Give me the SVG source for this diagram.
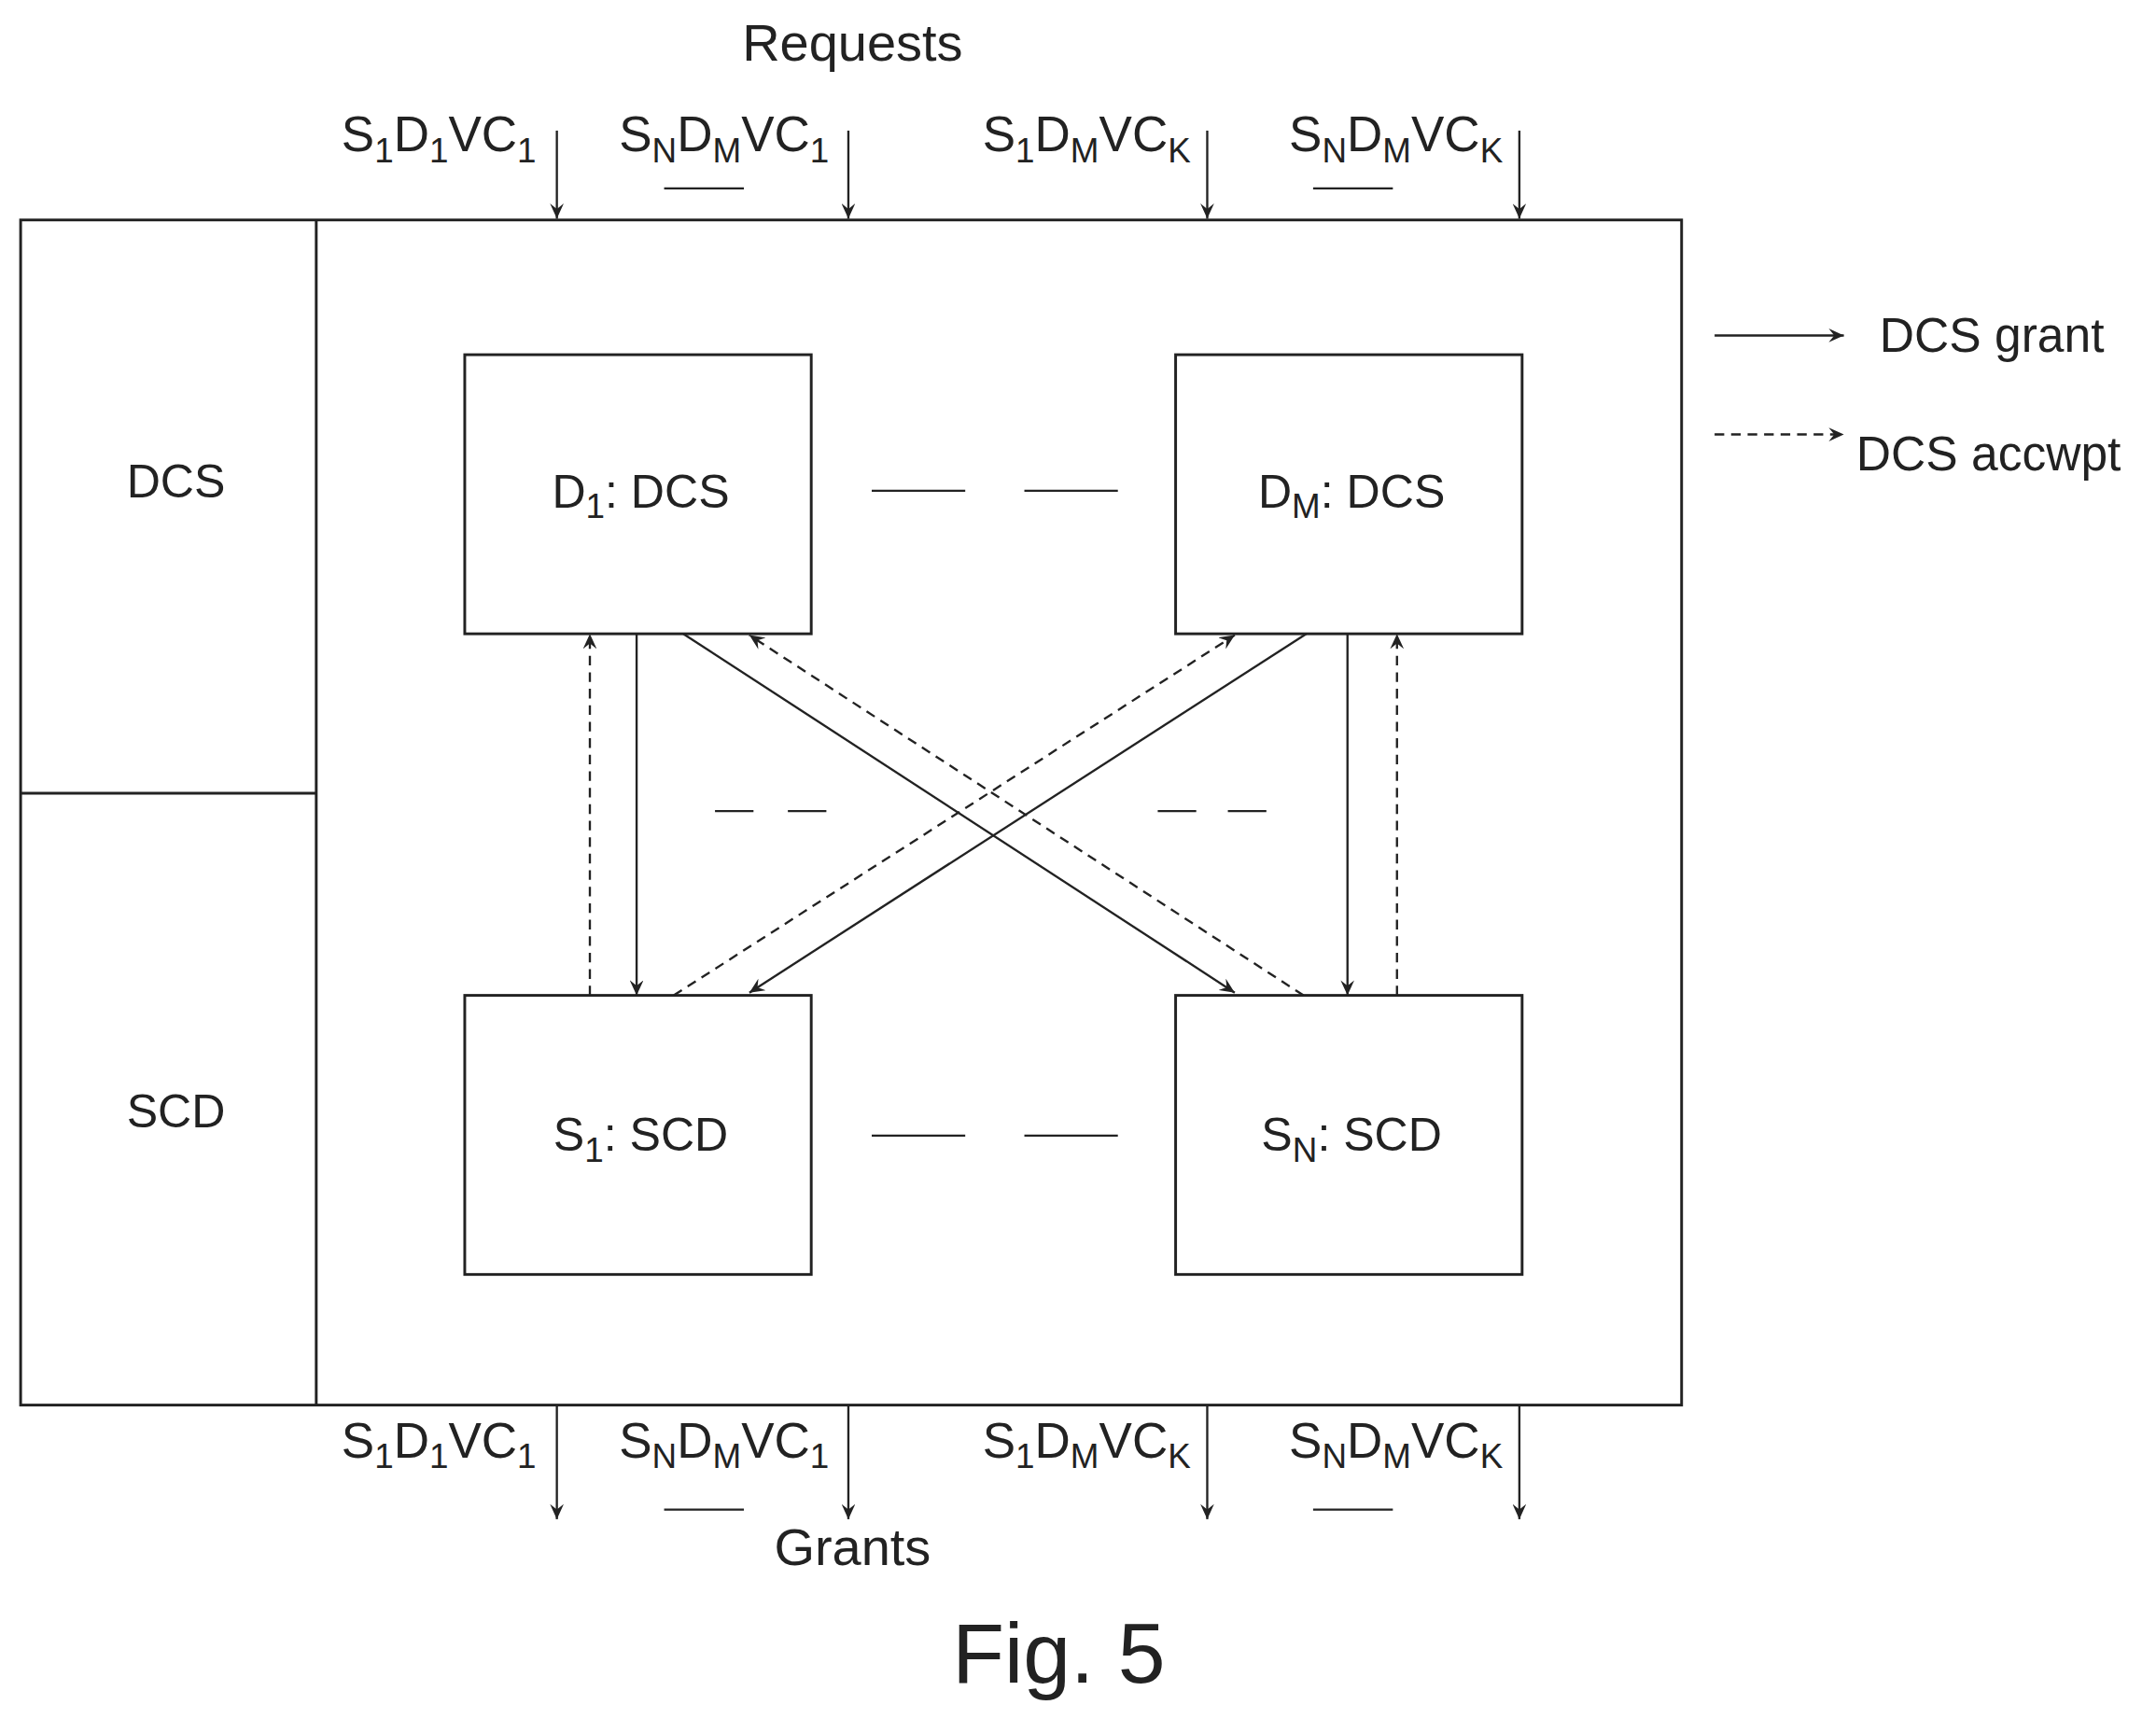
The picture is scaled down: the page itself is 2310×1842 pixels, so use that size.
<svg xmlns="http://www.w3.org/2000/svg" width="2310" height="1842" viewBox="0 0 2310 1842">
<style>
.b{fill:none;stroke:#222;stroke-width:2}
.s{stroke:#222;stroke-width:1.6;fill:none}
.d{stroke:#222;stroke-width:1.6;fill:none;stroke-dasharray:7,5}
text{font-family:"Liberation Sans",Arial,sans-serif;fill:#222;font-size:36px}
.m{text-anchor:middle}
.e{text-anchor:end}
.sub{font-size:25px}
.n{font-size:34px}
</style>
<defs>
<marker id="a" markerWidth="12" markerHeight="10" refX="11" refY="5" orient="auto" markerUnits="userSpaceOnUse"><path d="M0,0 L11,5 L0,10 L4,5 Z" fill="#222"/></marker>
</defs>
<rect width="2310" height="1842" fill="#fff"/>
<g transform="scale(1.4732)">
<g id="frame">
<rect class="b" x="15" y="160" width="1208" height="862"/>
<line class="b" x1="230" y1="160" x2="230" y2="1022"/>
<line class="b" x1="15" y1="577" x2="230" y2="577"/>
<text class="m n" x="128" y="362">DCS</text>
<text class="m n" x="128" y="820">SCD</text>
</g>
<g id="D1"><rect class="b" x="338" y="258" width="252" height="203"/><text class="m n" x="466" y="369">D<tspan class="sub" dy="8">1</tspan><tspan dy="-8">: DCS</tspan></text></g>
<g id="DM"><rect class="b" x="855" y="258" width="252" height="203"/><text class="m n" x="983" y="369">D<tspan class="sub" dy="8">M</tspan><tspan dy="-8">: DCS</tspan></text></g>
<g id="S1"><rect class="b" x="338" y="724" width="252" height="203"/><text class="m n" x="466" y="837">S<tspan class="sub" dy="8">1</tspan><tspan dy="-8">: SCD</tspan></text></g>
<g id="SN"><rect class="b" x="855" y="724" width="252" height="203"/><text class="m n" x="983" y="837">S<tspan class="sub" dy="8">N</tspan><tspan dy="-8">: SCD</tspan></text></g>
<g id="ellipses">
<path class="s" d="M634,357H702M745,357H813M634,826H702M745,826H813M520,590H548M573,590H601M842,590H870M893,590H921M483,137H541M955,137H1013M483,1098H541M955,1098H1013"/>
</g>
<g id="connectors">
<line class="d" x1="429" y1="724" x2="429" y2="461" marker-end="url(#a)"/>
<line class="s" x1="463" y1="461" x2="463" y2="724" marker-end="url(#a)"/>
<line class="s" x1="980" y1="461" x2="980" y2="724" marker-end="url(#a)"/>
<line class="d" x1="1016" y1="724" x2="1016" y2="461" marker-end="url(#a)"/>
<line class="s" x1="497" y1="461" x2="898" y2="722" marker-end="url(#a)"/>
<line class="d" x1="948" y1="724" x2="545" y2="462" marker-end="url(#a)"/>
<line class="s" x1="950" y1="461" x2="545" y2="722" marker-end="url(#a)"/>
<line class="d" x1="490" y1="724" x2="898" y2="462" marker-end="url(#a)"/>
<line class="s" x1="405" y1="95" x2="405" y2="159" marker-end="url(#a)"/>
<line class="s" x1="617" y1="95" x2="617" y2="159" marker-end="url(#a)"/>
<line class="s" x1="878" y1="95" x2="878" y2="159" marker-end="url(#a)"/>
<line class="s" x1="1105" y1="95" x2="1105" y2="159" marker-end="url(#a)"/>
<line class="s" x1="405" y1="1022" x2="405" y2="1105" marker-end="url(#a)"/>
<line class="s" x1="617" y1="1022" x2="617" y2="1105" marker-end="url(#a)"/>
<line class="s" x1="878" y1="1022" x2="878" y2="1105" marker-end="url(#a)"/>
<line class="s" x1="1105" y1="1022" x2="1105" y2="1105" marker-end="url(#a)"/>
<line class="s" x1="1247" y1="244" x2="1341" y2="244" marker-end="url(#a)"/>
<line class="d" x1="1247" y1="316" x2="1341" y2="316" marker-end="url(#a)"/>
</g>
<g id="labels">
<text class="m" x="620" y="44" style="font-size:38px">Requests</text>
<text class="e" x="390" y="110">S<tspan class="sub" dy="8">1</tspan><tspan dy="-8">D</tspan><tspan class="sub" dy="8">1</tspan><tspan dy="-8">VC</tspan><tspan class="sub" dy="8">1</tspan></text>
<text class="e" x="603" y="110">S<tspan class="sub" dy="8">N</tspan><tspan dy="-8">D</tspan><tspan class="sub" dy="8">M</tspan><tspan dy="-8">VC</tspan><tspan class="sub" dy="8">1</tspan></text>
<text class="e" x="866" y="110">S<tspan class="sub" dy="8">1</tspan><tspan dy="-8">D</tspan><tspan class="sub" dy="8">M</tspan><tspan dy="-8">VC</tspan><tspan class="sub" dy="8">K</tspan></text>
<text class="e" x="1093" y="110">S<tspan class="sub" dy="8">N</tspan><tspan dy="-8">D</tspan><tspan class="sub" dy="8">M</tspan><tspan dy="-8">VC</tspan><tspan class="sub" dy="8">K</tspan></text>
<text class="e" x="390" y="1060">S<tspan class="sub" dy="8">1</tspan><tspan dy="-8">D</tspan><tspan class="sub" dy="8">1</tspan><tspan dy="-8">VC</tspan><tspan class="sub" dy="8">1</tspan></text>
<text class="e" x="603" y="1060">S<tspan class="sub" dy="8">N</tspan><tspan dy="-8">D</tspan><tspan class="sub" dy="8">M</tspan><tspan dy="-8">VC</tspan><tspan class="sub" dy="8">1</tspan></text>
<text class="e" x="866" y="1060">S<tspan class="sub" dy="8">1</tspan><tspan dy="-8">D</tspan><tspan class="sub" dy="8">M</tspan><tspan dy="-8">VC</tspan><tspan class="sub" dy="8">K</tspan></text>
<text class="e" x="1093" y="1060">S<tspan class="sub" dy="8">N</tspan><tspan dy="-8">D</tspan><tspan class="sub" dy="8">M</tspan><tspan dy="-8">VC</tspan><tspan class="sub" dy="8">K</tspan></text>
<text class="m" x="620" y="1138" style="font-size:38px">Grants</text>
<text class="m" x="770" y="1224" style="font-size:62px">Fig. 5</text>
<text x="1367" y="256" style="font-size:35px">DCS grant</text>
<text x="1350" y="342" style="font-size:35px">DCS accwpt</text>
</g>
</g>
</svg>
